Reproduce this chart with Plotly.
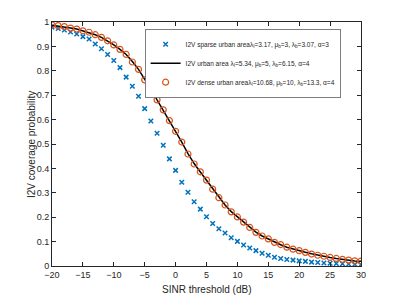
import plotly.graph_objects as go

sinr_db = list(range(-20, 31))

sparse = [0.979, 0.973, 0.967, 0.959, 0.951, 0.940, 0.930, 0.910, 0.890, 0.867,
          0.842, 0.813, 0.774, 0.737, 0.696, 0.645, 0.594, 0.544, 0.495, 0.439,
          0.392, 0.343, 0.302, 0.263, 0.233, 0.202, 0.174, 0.153, 0.135, 0.116,
          0.101, 0.086, 0.074, 0.063, 0.052, 0.044, 0.036, 0.031, 0.027, 0.024,
          0.021, 0.019, 0.016, 0.014, 0.012, 0.011, 0.010, 0.009, 0.008, 0.007, 0.006]

urban = [0.987, 0.984, 0.981, 0.975, 0.971, 0.964, 0.958, 0.948, 0.937, 0.923,
         0.906, 0.888, 0.867, 0.838, 0.806, 0.765, 0.727, 0.681, 0.639, 0.596,
         0.552, 0.508, 0.461, 0.420, 0.385, 0.351, 0.315, 0.281, 0.250, 0.223,
         0.201, 0.180, 0.158, 0.139, 0.123, 0.110, 0.097, 0.087, 0.077, 0.069,
         0.062, 0.056, 0.050, 0.044, 0.039, 0.035, 0.031, 0.027, 0.024, 0.021, 0.019]

dense = [0.988, 0.985, 0.981, 0.975, 0.971, 0.964, 0.958, 0.948, 0.937, 0.923,
         0.906, 0.888, 0.867, 0.836, 0.806, 0.763, 0.729, 0.681, 0.640, 0.596,
         0.552, 0.508, 0.459, 0.418, 0.386, 0.352, 0.315, 0.280, 0.250, 0.222,
         0.201, 0.180, 0.158, 0.138, 0.123, 0.111, 0.097, 0.088, 0.077, 0.069,
         0.063, 0.056, 0.049, 0.044, 0.040, 0.035, 0.031, 0.027, 0.024, 0.021, 0.020]

x_ticks = list(range(-20, 31, 5))
y_ticks = [round(i * 0.1, 1) for i in range(11)]
y_tick_text = ["0", "0.1", "0.2", "0.3", "0.4", "0.5", "0.6", "0.7", "0.8", "0.9", "1"]

x_title = "SINR threshold (dB)"
y_title = "I2V coverage probability"

names = [
    "I2V sparse urban areaλ<sub>I</sub>=3.17, μ<sub>b</sub>=3, λ<sub>b</sub>=3.07, α=3",
    "I2V urban area λ<sub>I</sub>=5.34, μ<sub>b</sub>=5, λ<sub>b</sub>=6.15, α=4",
    "I2V dense urban areaλ<sub>I</sub>=10.68, μ<sub>b</sub>=10, λ<sub>b</sub>=13.3, α=4",
]

fig = go.Figure()
fig.add_trace(go.Scatter(x=sinr_db, y=sparse, mode="markers", name=names[0],
                         marker=dict(symbol="x-thin", size=4.5, color="#0072BD",
                                     line=dict(width=1.5, color="#0072BD"))))
fig.add_trace(go.Scatter(x=sinr_db, y=urban, mode="lines", name=names[1],
                         line=dict(color="black", width=1.5)))
fig.add_trace(go.Scatter(x=sinr_db, y=dense, mode="markers", name=names[2],
                         marker=dict(symbol="circle-open", size=6, color="#D95319",
                                     line=dict(width=1.2, color="#D95319"))))

axis_common = dict(showline=True, linecolor="#262626", linewidth=0.8, mirror="ticks",
                   ticks="inside", ticklen=4, tickcolor="#262626", showgrid=False,
                   zeroline=False, automargin=False,
                   tickfont=dict(size=9, color="#262626"))

fig.update_xaxes(range=[-20, 30], tickvals=x_ticks, **axis_common)
fig.update_yaxes(range=[0, 1], tickvals=y_ticks, ticktext=y_tick_text, **axis_common)

fig.add_annotation(text=x_title, xref="paper", yref="paper", x=0.5, y=-0.098,
                   xanchor="center", yanchor="middle", showarrow=False,
                   font=dict(size=10, color="#262626"))
fig.add_annotation(text=y_title, xref="paper", yref="paper", x=-0.068, y=0.5,
                   xanchor="center", yanchor="middle", showarrow=False, textangle=-90,
                   font=dict(size=10, color="#262626"))

# page body has a default 8px margin, so the figure is sized to compensate
fig.update_layout(
    width=391, height=291,
    margin=dict(l=44, r=38, t=14, b=33),
    paper_bgcolor="white", plot_bgcolor="white",
    font=dict(family="Liberation Sans, Arial, sans-serif", color="#262626"),
    legend=dict(x=0.301, y=0.971, xanchor="left", yanchor="top",
                bgcolor="white", bordercolor="#262626", borderwidth=0.6,
                font=dict(size=6.5, color="#262626"), tracegroupgap=0,
                itemwidth=30),
    showlegend=True,
)

fig.write_html("out.html")
